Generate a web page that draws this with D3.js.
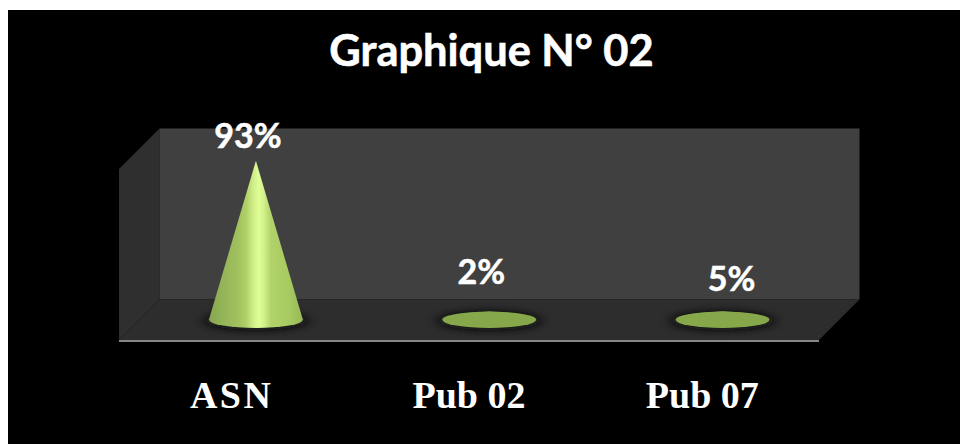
<!DOCTYPE html>
<html><head><meta charset="utf-8">
<script src="https://cdn.jsdelivr.net/npm/d3@7"></script>
<style>html,body{margin:0;padding:0;background:#fff}svg{display:block}</style>
</head><body><div id="c"></div>
<script>
const title = "Graphique N° 02";
const categories = ["ASN", "Pub 02", "Pub 07"];
const values = [93, 2, 5];
const valueLabels = ["93%", "2%", "5%"];

const W = 960, H = 444;
const depth = 40.5;
const plot = {left: 119, right: 819, front: 340, top: 169};
const labelNudge = [[-8, 148], [-8, 284], [9, 291]];
const rx = 47, ry = 8.2;

const svg = d3.select("#c").append("svg").attr("width", W).attr("height", H);
const defs = svg.append("defs");

const coneGrad = defs.append("linearGradient").attr("id", "cone");
[[0,"#86a650"],[0.12,"#92b257"],[0.3,"#a0c05f"],[0.4,"#b0d068"],[0.47,"#d0ee88"],[0.53,"#defe98"],[0.58,"#d4f28c"],[0.66,"#b2d26a"],[0.85,"#a6cb60"],[1,"#98b858"]]
  .forEach(([o,c]) => coneGrad.append("stop").attr("offset", o).attr("stop-color", c));
const blur = defs.append("filter").attr("id", "blur").attr("x", "-40%").attr("y", "-200%").attr("width", "180%").attr("height", "500%");
blur.append("feGaussianBlur").attr("stdDeviation", "7 4");

svg.append("rect").attr("x", 8).attr("y", 10).attr("width", W - 8).attr("height", H - 10).attr("fill", "#000");

// scales: front plane for the axis, mid-depth plane for the cones
const xFront = d3.scaleBand().domain(categories).range([plot.left, plot.right]);
const xMid = d3.scaleBand().domain(categories).range([plot.left + depth / 2, plot.right + depth / 2]);
const y0 = plot.front - depth / 2;
const y = d3.scaleLinear().domain([0, 100]).range([y0, plot.top - depth / 2]);

const poly = pts => "M" + pts.map(p => p.join(",")).join("L") + "Z";
const bl = plot.left, br = plot.right, f = plot.front, t = plot.top, d = depth;
svg.append("path").attr("fill", "#2f2f2f").attr("d", poly([[bl, t], [bl + d, t - d], [bl + d, f - d], [bl, f]]));
svg.append("path").attr("fill", "#404040").attr("d", poly([[bl + d, t - d], [br + d, t - d], [br + d, f - d], [bl + d, f - d]]));
svg.append("path").attr("fill", "#2d2d2d").attr("d", poly([[bl + d, f - d], [br + d, f - d], [br, f], [bl, f]]));

const cones = svg.append("g").selectAll("g").data(categories).join("g");
cones.append("ellipse")
  .attr("cx", c => xMid(c) + xMid.bandwidth() / 2).attr("cy", y0 + 1)
  .attr("rx", rx + 5).attr("ry", ry + 1).attr("fill", "#0a0a0a").attr("filter", "url(#blur)");
cones.each(function (c, i) {
  const g = d3.select(this), cx = xMid(c) + xMid.bandwidth() / 2, v = values[i], top = y(v);
  const tall = y0 - top > ry * 2;
  if (!tall) g.append("ellipse").attr("cx", cx).attr("cy", y0).attr("rx", rx).attr("ry", ry).attr("fill", "#86a84a");
  g.append("path")
    .attr("d", tall
      ? `M${cx - rx},${y0}A${rx},${ry} 0 0 0 ${cx + rx},${y0}L${cx},${top}Z`
      : `M${cx - 28},${y0 - ry * 0.75}L${cx},${Math.min(top, y0 - ry)}L${cx + 28},${y0 - ry * 0.75}Z`)
    .attr("fill", tall ? "url(#cone)" : "#86a84a");
});

svg.append("line").attr("x1", plot.left).attr("x2", plot.right).attr("y1", f + 1).attr("y2", f + 1)
  .attr("stroke", "#868686").attr("stroke-width", 2);

const axis = svg.append("g").attr("transform", `translate(0,${f})`)
  .call(d3.axisBottom(xFront).tickSize(0).tickPadding(41));
axis.select(".domain").remove();
axis.selectAll("text").attr("fill", "#fff").attr("font-family", "'Liberation Serif'")
  .attr("font-weight", "bold").attr("font-size", 38).attr("dy", "0.71em");
axis.selectAll("text").filter(c => c === "ASN").attr("dx", -4).attr("letter-spacing", 2.5);

svg.append("g").selectAll("text").data(categories).join("text")
  .attr("x", c => xMid(c) + xMid.bandwidth() / 2 + labelNudge[categories.indexOf(c)][0])
  .attr("y", c => labelNudge[categories.indexOf(c)][1])
  .attr("text-anchor", "middle").attr("fill", "#fff").attr("stroke", "#fff").attr("stroke-width", 0.5)
  .attr("font-family", "Lato").attr("font-weight", "bold").attr("font-size", 34)
  .text((c, i) => valueLabels[i]);

svg.append("text").attr("x", 491.5).attr("y", 66).attr("text-anchor", "middle").attr("fill", "#fff")
  .attr("stroke", "#fff").attr("stroke-width", 0.6)
  .attr("font-family", "Lato").attr("font-weight", "bold").attr("font-size", 43.4).text(title);
</script></body></html>
